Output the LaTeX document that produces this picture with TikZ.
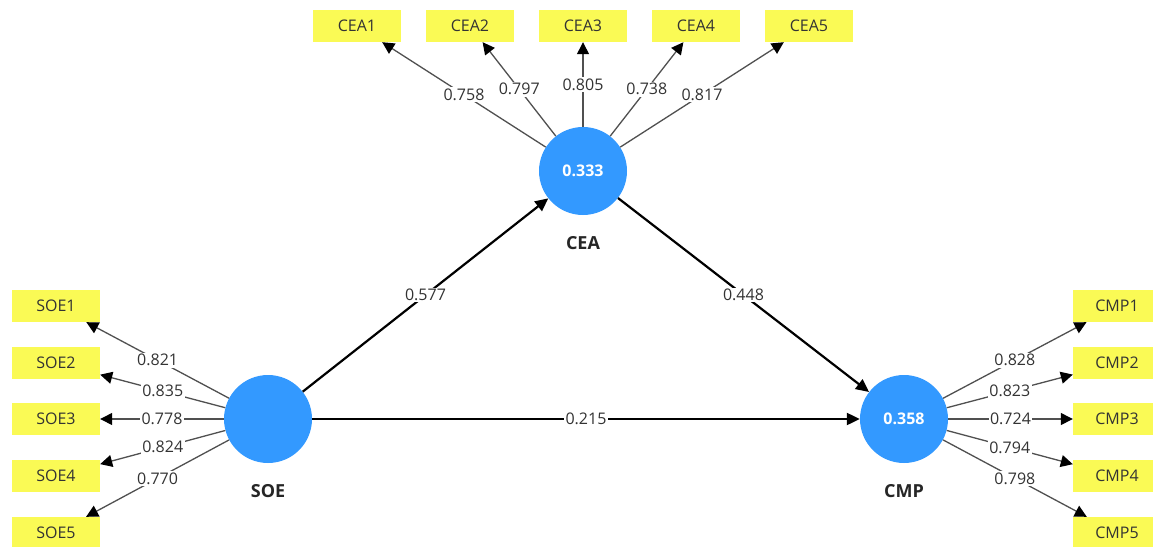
\documentclass[tikz,border=0pt]{standalone}
\usepackage{fontspec}
\setmainfont{Open Sans}
\usepackage{xcolor}
\usetikzlibrary{arrows, arrows.meta}
\usetikzlibrary{positioning}
\definecolor{lvblue}{HTML}{3399FF}
\definecolor{mvyellow}{HTML}{FAFA55}
\definecolor{lgray}{HTML}{505050}
\definecolor{txtgray}{HTML}{333333}
\tikzset{
	latent/.style={circle, fill=lvblue, minimum size=88pt, inner sep=0pt, text=white, font=\fontsize{16pt}{19pt}\bfseries},
	lvname/.style={font=\fontsize{18pt}{21pt}\bfseries, text=black!85},
	indicator/.style={rectangle, fill=mvyellow, minimum width=88pt, minimum height=32pt, inner sep=0pt, text=txtgray, font=\fontsize{16pt}{19pt}\selectfont},
	loading/.style={draw=lgray, line width=1.3pt, -{Triangle[length=12pt,width=12pt,color=black,fill=black]}},
	inner path/.style={draw=black, line width=2.2pt, -{Triangle[length=13pt,width=12pt]}},
	coef/.style={fill=white, inner sep=1.5pt, text=txtgray, font=\fontsize{16pt}{19pt}\selectfont}
}

\begin{document}
\begin{tikzpicture}[x=1pt,y=-1pt]
	\path[use as bounding box, fill=white] (0,0) rectangle (1153,546);
	
	% Latent variables
	\node[latent] (soe) at (268,419) {};
	\node[latent] (cea) at (583,171) {0.333};
	\node[latent] (cmp) at (904,419) {0.358};
	\node[lvname] (soename) at (268,491) {SOE};
	\node[lvname] (ceaname) at (583,243) {CEA};
	\node[lvname] (cmpname) at (904,491) {CMP};
	
	% Outer model
	\foreach \i/\x/\w in {1/357/0.758, 2/470/0.797, 3/583/0.805, 4/696/0.738, 5/809/0.817} {
		\node[indicator] (cea\i) at (\x,26) {CEA\i};
		\draw[loading] (cea) -- node[coef] {\w} (cea\i);
	}
	\foreach \i/\y/\w in {1/306/0.821, 2/363/0.835, 3/419/0.778, 4/476/0.824, 5/533/0.770} {
		\node[indicator] (soe\i) at (56,\y) {SOE\i};
		\draw[loading] (soe) -- node[coef] {\w} (soe\i);
	}
	\foreach \i/\y/\w in {1/306/0.828, 2/363/0.823, 3/419/0.724, 4/476/0.794, 5/533/0.798} {
		\node[indicator] (cmp\i) at (1117,\y) {CMP\i};
		\draw[loading] (cmp) -- node[coef] {\w} (cmp\i);
	}
	
	% Inner model
	\draw[inner path] (soe) -- node[coef] {0.577} (cea);
	\draw[inner path] (cea) -- node[coef] {0.448} (cmp);
	\draw[inner path] (soe) -- node[coef] {0.215} (cmp);
\end{tikzpicture}
\end{document}
